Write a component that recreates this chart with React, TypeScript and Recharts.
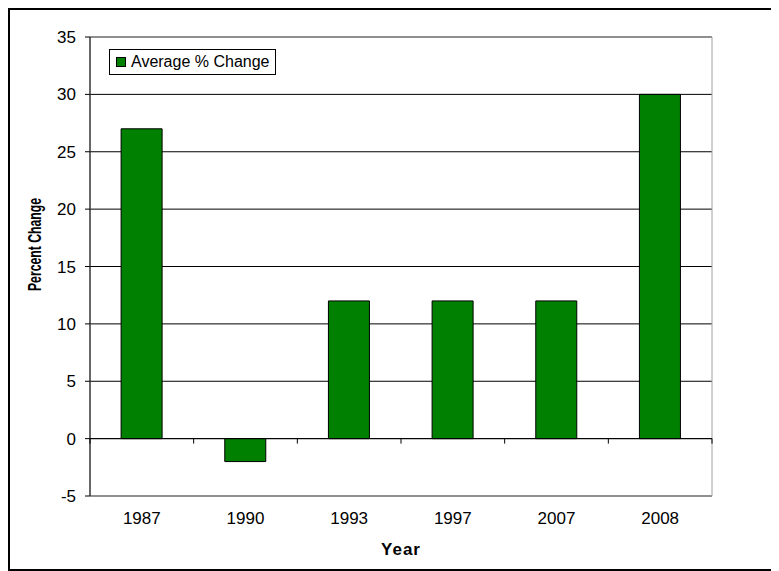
import { BarChart, Bar, XAxis, YAxis, CartesianGrid, ReferenceLine, ReferenceArea, Legend } from 'recharts'

const years = ['1987', '1990', '1993', '1997', '2007', '2008']
const avgChange = [27, -2, 12, 12, 12, 30]
const yTicks = [-5, 0, 5, 10, 15, 20, 25, 30, 35]

const GREEN = '#008000'
const FONT = '"Liberation Sans", Arial, sans-serif'

const data = years.map((year, i) => ({ year, change: avgChange[i] }))

// zero line with category boundary ticks hanging below it
const ZeroAxis = (props: any) => {
  const { x1, y1, x2 } = props
  const n = years.length
  const step = (x2 - x1) / n
  return (
    <g>
      <line x1={x1} y1={y1} x2={x2} y2={y1} stroke="#000" strokeWidth={1} />
      {years.concat(['']).map((_, i) => (
        <line key={i} x1={x1 + i * step} y1={y1} x2={x1 + i * step} y2={y1 + 5} stroke="#000" strokeWidth={1} />
      ))}
    </g>
  )
}

const LegendBox = ({ payload }: any) => (
  <div style={{ border: '1px solid #000', background: '#fff', padding: '3px 6px', display: 'flex', alignItems: 'center', fontFamily: FONT, fontSize: 16, color: '#000', whiteSpace: 'nowrap' }}>
    {(payload || []).map((p: any) => (
      <span key={p.value} style={{ display: 'flex', alignItems: 'center' }}>
        <span style={{ width: 8, height: 8, background: GREEN, border: '1px solid #000', marginRight: 5 }} />
        {p.value}
      </span>
    ))}
  </div>
)

const YLabel = ({ viewBox }: any) => {
  const cx = viewBox.x + 25
  const cy = viewBox.y + viewBox.height / 2 - 22
  return (
    <text transform={`translate(${cx},${cy}) rotate(-90) scale(0.68,1)`} textAnchor="middle" dominantBaseline="central"
      fontFamily={FONT} fontSize={18} fontWeight="bold" fill="#000">
      Percent Change
    </text>
  )
}

export default function App() {
  return (
    <div style={{ width: 765, height: 559, borderTop: '2px solid #000', borderLeft: '2px solid #000', borderBottom: '2px solid #000', background: '#fff' }}>
      <style>{'body{overflow:hidden}'}</style>
      <BarChart width={765} height={559} data={data} margin={{ top: 27, right: 63, bottom: 0, left: 0 }} barCategoryGap="30%">
        <CartesianGrid vertical={false} stroke="#000" />
        <ReferenceArea y1={-5} y2={35} stroke="#a0a0a0" fill="none" fillOpacity={0} />
        <Bar dataKey="change" name="Average % Change" fill={GREEN} stroke="#000" strokeWidth={1} isAnimationActive={false} />
        <ReferenceLine y={0} shape={ZeroAxis} />
        <XAxis dataKey="year" height={73} axisLine={false} tickLine={false} tickSize={6} tickMargin={10}
          tick={{ fontFamily: FONT, fontSize: 17, fill: '#000' }}
          label={{ value: 'Year', position: 'insideBottom', offset: 14, style: { fontFamily: FONT, fontSize: 17, fontWeight: 'bold', fill: '#000', letterSpacing: 1 } }} />
        <YAxis width={80} domain={[-5, 35]} ticks={yTicks} interval={0} stroke="#000" tickSize={5} tickMargin={9}
          tick={{ fontFamily: FONT, fontSize: 17, fill: '#000' }} label={{ content: YLabel }} />
        <Legend layout="vertical" verticalAlign="middle" align="center" content={LegendBox}
          wrapperStyle={{ left: 99, top: 39, width: 'auto' }} />
      </BarChart>
    </div>
  )
}
